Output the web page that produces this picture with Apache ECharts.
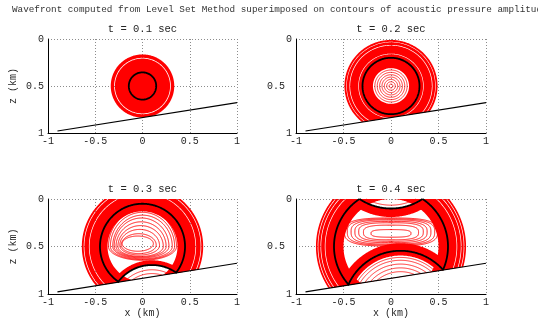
<!DOCTYPE html>
<html><head><meta charset="utf-8">
<script src="https://cdn.jsdelivr.net/npm/echarts@6/dist/echarts.min.js"></script>
<style>html,body{margin:0;padding:0;background:#fff}#c{width:538px;height:322px}</style>
</head><body><div id="c"></div><script>
// ---------------- data ----------------
const mainTitle = 'Wavefront computed from Level Set Method superimposed on contours of acoustic pressure amplitude';
const panelTitles = ['t = 0.1 sec', 't = 0.2 sec', 't = 0.3 sec', 't = 0.4 sec'];
const xTicks = [-1, -0.5, 0, 0.5, 1];
const zTicks = [0, 0.5, 1];
const sourcePoint = [0, 0.5];
const topImagePoint = [0, -0.5];
const bottomImagePoint = [0.1, 1.145];
const slopeLine = [[-0.9, 0.978], [1, 0.677]];
const wavefrontRadius = [0.145, 0.3, 0.45, 0.6];
const wavefrontCenters = [['source'], ['source'], ['source', 'bottom'], ['source', 'top', 'bottom']];
// dense contour bands: [centre, inner radius, outer radius]
const bands1 = [['source', 0.0, 0.292], ['source', 0.3, 0.336]];
const bands2 = [['source', 0.19, 0.338], ['source', 0.344, 0.43], ['source', 0.437, 0.465], ['source', 0.47, 0.49]];
const bands3 = [['source', 0.37, 0.56], ['source', 0.567, 0.615], ['source', 0.622, 0.642], ['bottom', 0.45, 0.5]];
const bands4 = [['source', 0.5, 0.69], ['source', 0.697, 0.735], ['source', 0.742, 0.765], ['source', 0.772, 0.79],
                ['top', 0.6, 0.69], ['bottom', 0.55, 0.68]];
// single contour rings: [centre, radius]
const rings1 = [];
const rings2 = [['source', 0.02], ['source', 0.045], ['source', 0.07], ['source', 0.095], ['source', 0.12], ['source', 0.145], ['source', 0.17]];
const rings3 = [['bottom', 0.36], ['bottom', 0.4]];
const rings4 = [['top', 0.565], ['bottom', 0.38], ['bottom', 0.42], ['bottom', 0.46], ['bottom', 0.5], ['bottom', 0.53]];
// closed interior contours: [cx, cz, half width, extent up, extent down]
const loops3 = [[-0.05, 0.47, 0.165, 0.08, 0.08], [-0.04, 0.485, 0.185, 0.12, 0.09], [-0.03, 0.49, 0.21, 0.17, 0.1],
                [-0.02, 0.5, 0.24, 0.22, 0.105], [-0.015, 0.5, 0.265, 0.26, 0.112], [-0.01, 0.5, 0.29, 0.3, 0.12],
                [0, 0.5, 0.315, 0.33, 0.13], [0, 0.5, 0.34, 0.36, 0.138], [0, 0.5, 0.36, 0.385, 0.145]];
const loops4 = [[0, 0.362, 0.21, 0.04, 0.04], [0, 0.35, 0.29, 0.075, 0.08], [0, 0.345, 0.34, 0.095, 0.1],
                [0, 0.345, 0.38, 0.11, 0.115], [0, 0.345, 0.42, 0.125, 0.13], [0, 0.345, 0.46, 0.135, 0.14],
                [0, 0.345, 0.49, 0.145, 0.15]];

// ---------------- rendering ----------------
const FONT = '"Liberation Mono", "DejaVu Sans Mono", monospace';
const RED = '#ff0000';
const TXT = '#262626';
const centers = { source: sourcePoint, top: topImagePoint, bottom: bottomImagePoint };
const bandsByPanel = [bands1, bands2, bands3, bands4];
const ringsByPanel = [rings1, rings2, rings3, rings4];
const loopsByPanel = [[], [], loops3, loops4];
const loopPower = [2, 2, 2, 3];

function slopeZ(x) { const a = slopeLine[0], b = slopeLine[1]; return a[1] + (b[1] - a[1]) * (x - a[0]) / (b[0] - a[0]); }
const constraints = [p => p[1], p => 1 - p[1], p => p[0] + 1, p => 1 - p[0], p => slopeZ(p[0]) - p[1]];
function isIn(p) { return constraints.every(g => g(p) >= 0); }
function lerp(a, b, t) { return [a[0] + (b[0] - a[0]) * t, a[1] + (b[1] - a[1]) * t]; }
function exitPoint(a, b) {
  let tMin = 1;
  for (const g of constraints) { const ga = g(a), gb = g(b); if (gb < 0 && ga >= 0) { const t = ga / (ga - gb); if (t < tMin) tMin = t; } }
  return lerp(a, b, tMin);
}
function clipPolyline(pts) {
  const runs = []; let cur = null;
  for (let i = 0; i < pts.length; i++) {
    const p = pts[i], pin = isIn(p);
    if (i === 0) { if (pin) cur = [p]; continue; }
    const q = pts[i - 1], qin = isIn(q);
    if (qin && pin) cur.push(p);
    else if (qin && !pin) { cur.push(exitPoint(q, p)); runs.push(cur); cur = null; }
    else if (!qin && pin) { cur = [exitPoint(p, q), p]; }
  }
  if (cur) runs.push(cur);
  if (runs.length > 1 && isIn(pts[0])) { const last = runs.pop(); runs[0] = last.concat(runs[0].slice(1)); }
  return runs;
}
function clipPolygon(poly) {
  for (const g of constraints) {
    const out = [], n = poly.length; if (!n) return out;
    for (let i = 0; i < n; i++) {
      const cur = poly[i], prev = poly[(i + n - 1) % n], gc = g(cur), gp = g(prev);
      if (gc >= 0) { if (gp < 0) out.push(lerp(prev, cur, gp / (gp - gc))); out.push(cur); }
      else if (gp >= 0) out.push(lerp(prev, cur, gp / (gp - gc)));
    }
    poly = out;
  }
  return poly;
}
function circlePts(cx, cz, r) {
  const n = Math.max(96, Math.ceil(r * 900)), pts = [];
  for (let i = 0; i <= n; i++) { const a = 2 * Math.PI * i / n; pts.push([cx + r * Math.cos(a), cz + r * Math.sin(a)]); }
  return pts;
}
function loopPts(cx, cz, rx, up, down, pw) {
  const n = 360, pts = [], e = 2 / pw;
  for (let i = 0; i <= n; i++) {
    const a = 2 * Math.PI * i / n, c = Math.cos(a), s = Math.sin(a);
    pts.push([cx + rx * Math.sign(c) * Math.pow(Math.abs(c), e), cz + (s >= 0 ? down : up) * Math.sign(s) * Math.pow(Math.abs(s), e)]);
  }
  return pts;
}
function strokeGroup(runs, api, color, lw) {
  return { type: 'group', children: runs.map(run => ({ type: 'polyline', silent: true,
    shape: { points: run.map(p => api.coord(p)) }, style: { stroke: color, lineWidth: lw, fill: null } })) };
}

const grids = [
  { left: 48, top: 39, width: 189, height: 94 },
  { left: 296, top: 39, width: 190, height: 94 },
  { left: 48, top: 199, width: 189, height: 95 },
  { left: 296, top: 199, width: 190, height: 95 }
];
const xAxes = [], yAxes = [], series = [], graphics = [];
graphics.push({ type: 'text', x: 12, y: 10, silent: true,
  style: { text: mainTitle, font: '9.3px ' + FONT, fill: '#333', align: 'left', verticalAlign: 'middle' } });

grids.forEach((g, i) => {
  graphics.push({ type: 'text', x: g.left + g.width / 2, y: g.top - 9.5, silent: true,
    style: { text: panelTitles[i], font: '10.5px ' + FONT, fill: TXT, align: 'center', verticalAlign: 'middle' } });
  const splitLine = { show: true, lineStyle: { color: '#8c8c8c', width: 1, type: [1, 2] } };
  xAxes.push({ gridIndex: i, type: 'value', min: xTicks[0], max: xTicks[xTicks.length - 1], interval: xTicks[1] - xTicks[0],
    axisLine: { onZero: false, lineStyle: { color: '#000', width: 1 } }, axisTick: { show: false },
    axisLabel: { fontFamily: FONT, fontSize: 10, color: TXT, margin: 3 }, splitLine,
    name: i >= 2 ? 'x (km)' : '', nameLocation: 'middle', nameGap: 12,
    nameTextStyle: { fontFamily: FONT, fontSize: 10, color: TXT } });
  const right = i % 2 === 1;
  yAxes.push({ gridIndex: i, type: 'value', inverse: true, min: zTicks[0], max: zTicks[zTicks.length - 1], interval: zTicks[1] - zTicks[0],
    axisLine: { onZero: false, lineStyle: { color: '#000', width: 1 } }, axisTick: { show: false },
    axisLabel: { fontFamily: FONT, fontSize: 10, color: TXT, margin: 4,
      formatter: v => (right && v === 0.5) ? '{s|0.5}' : String(v),
      rich: { s: { fontFamily: FONT, fontSize: 10, color: TXT, padding: [0, 7, 0, 0] } } },
    splitLine,
    name: right ? '' : 'z (km)', nameLocation: 'middle', nameRotate: 90, nameGap: 30,
    nameTextStyle: { fontFamily: FONT, fontSize: 10, color: TXT } });

  const ax = { xAxisIndex: i, yAxisIndex: i, coordinateSystem: 'cartesian2d', silent: true, animation: false };
  // dense bands (filled, clipped to the domain)
  series.push(Object.assign({ type: 'custom', z: 2,
    data: bandsByPanel[i].map(b => [centers[b[0]][0], centers[b[0]][1], b[1], b[2]]),
    renderItem(params, api) {
      const cx = api.value(0), cz = api.value(1);
      const outer = circlePts(cx, cz, api.value(3));
      const inner = circlePts(cx, cz, Math.max(api.value(2), 1e-4)).reverse();
      const poly = clipPolygon(outer.concat(inner));
      if (poly.length < 3) return { type: 'group', children: [] };
      return { type: 'polygon', silent: true, shape: { points: poly.map(p => api.coord(p)) }, style: { fill: RED, stroke: null } };
    } }, ax));
  // single rings
  series.push(Object.assign({ type: 'custom', z: 3,
    data: ringsByPanel[i].map(r => [centers[r[0]][0], centers[r[0]][1], r[1]]),
    renderItem(params, api) {
      return strokeGroup(clipPolyline(circlePts(api.value(0), api.value(1), api.value(2))), api, RED, 0.8);
    } }, ax));
  // interior loops
  series.push(Object.assign({ type: 'custom', z: 3,
    data: loopsByPanel[i],
    renderItem(params, api) {
      return strokeGroup(clipPolyline(loopPts(api.value(0), api.value(1), api.value(2), api.value(3), api.value(4), loopPower[i])), api, RED, 0.95);
    } }, ax));
  // wavefronts (black)
  series.push(Object.assign({ type: 'custom', z: 4,
    data: wavefrontCenters[i].map(k => [centers[k][0], centers[k][1], wavefrontRadius[i]]),
    renderItem(params, api) {
      return strokeGroup(clipPolyline(circlePts(api.value(0), api.value(1), api.value(2))), api, '#000', 1.8);
    } }, ax));
  // sloping bottom boundary
  series.push(Object.assign({ type: 'line', z: 5, data: slopeLine, symbol: 'none',
    lineStyle: { color: '#000', width: 1.1 } }, ax));
});

const chart = echarts.init(document.getElementById('c'), null, { renderer: 'canvas' });
chart.setOption({ animation: false, backgroundColor: '#fff', grid: grids, xAxis: xAxes, yAxis: yAxes, series, graphic: graphics });
</script></body></html>
